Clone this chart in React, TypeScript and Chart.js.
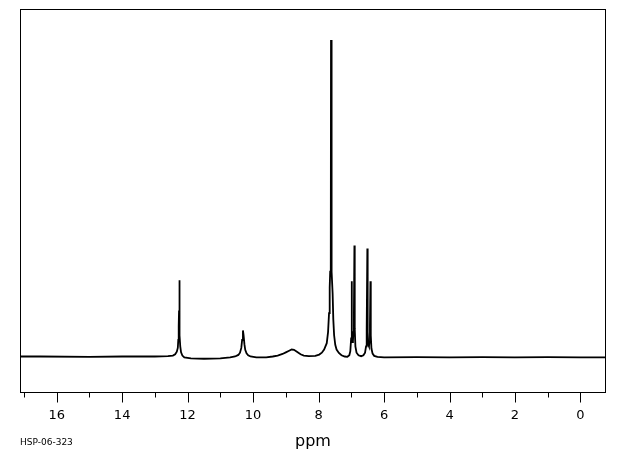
import React, { useEffect, useRef } from 'react';
import { Chart, registerables } from 'chart.js';

Chart.register(...registerables);

// Chemical shift (ppm) sample points, high to low field
const PPM = [
  17.12, 16.5, 15.0, 14.0, 13.0, 12.6, 12.45, 12.38, 12.33, 12.3, 12.285, 12.272, 12.262, 12.255, 12.248, 12.238, 12.225, 12.2, 12.16, 12.1,
  11.9, 11.5, 11.0, 10.7, 10.55, 10.45, 10.4, 10.36, 10.335, 10.31, 10.29, 10.265, 10.24, 10.2, 10.15, 10.08, 9.9, 9.6,
  9.4, 9.25, 9.1, 9.0, 8.9, 8.82, 8.75, 8.65, 8.55, 8.45, 8.3, 8.1, 7.98, 7.9, 7.83,
  7.75, 7.71, 7.68, 7.66, 7.645, 7.627, 7.62, 7.613, 7.59, 7.57, 7.55, 7.525, 7.49, 7.45, 7.38, 7.3, 7.2, 7.12,
  7.06, 7.03, 7.005, 6.99, 6.98, 6.965, 6.95, 6.935, 6.92, 6.905, 6.895, 6.875, 6.84, 6.78, 6.7,
  6.63, 6.58, 6.55, 6.53, 6.51, 6.5, 6.48, 6.46, 6.445, 6.43, 6.415, 6.405, 6.385, 6.35, 6.3, 6.2, 6.0,
  5.0, 4.0, 3.0, 2.0, 1.0, 0.0, -0.78,
];

// Relative intensity at each of the points above
const INTENSITY = [
  0.3, 0.3, 0.2, 0.3, 0.3, 0.4, 0.6, 1.0, 1.8, 3.0, 5.5, 10, 14.8, 24.3, 15, 7, 3.5, 1.6, 0.6, 0.0,
  -0.3, -0.4, -0.3, 0.0, 0.3, 0.8, 1.5, 3.0, 5.5, 8.5, 7.0, 4.2, 2.4, 1.3, 0.7, 0.3, 0.0, 0.0,
  0.3, 0.6, 1.1, 1.6, 2.1, 2.5, 2.4, 1.7, 1.0, 0.6, 0.4, 0.5, 0.9, 1.5, 2.5,
  4.5, 8, 14, 22, 27, 28, 100, 29, 27, 20, 12, 7, 4, 2.5, 1.4, 0.7, 0.3, 0.2,
  0.7, 2.0, 6, 24, 7, 4.8, 5.2, 8, 14, 35.3, 9, 3.5, 1.5, 0.7, 0.4,
  0.7, 1.5, 3.5, 9, 34.3, 8, 4, 3.5, 5, 10, 24, 7, 2.8, 1.2, 0.5, 0.2, 0.0,
  0.1, 0.0, 0.1, 0.0, 0.1, 0.0, 0.0,
];

const X_MIN = -0.78;
const X_MAX = 17.12;
const Y_MIN = -11.2;
const Y_MAX = 109.8;
const MAJOR_TICKS = [0, 2, 4, 6, 8, 10, 12, 14, 16];
const AXIS_TITLE = 'ppm';
const SAMPLE_ID = 'HSP-06-323';

const framePlugin = {
  id: 'nmrFrame',
  afterDraw(chart: any) {
    const { ctx, chartArea } = chart;
    const xs = chart.scales.x;
    ctx.save();
    ctx.strokeStyle = '#000';
    ctx.lineWidth = 1;
    const l = Math.round(chartArea.left) + 0.5;
    const r = Math.round(chartArea.right) - 0.5;
    const t = Math.round(chartArea.top) + 0.5;
    const b = Math.round(chartArea.bottom) - 0.5;
    ctx.strokeRect(l, t, r - l, b - t);
    ctx.beginPath();
    for (const tk of xs.ticks) {
      const px = Math.round(xs.getPixelForValue(tk.value)) + 0.5;
      const len = MAJOR_TICKS.includes(tk.value) ? 10 : 5;
      ctx.moveTo(px, b);
      ctx.lineTo(px, b + len);
    }
    ctx.stroke();
    ctx.fillStyle = '#000';
    ctx.font = '9px "DejaVu Sans"';
    ctx.textBaseline = 'middle';
    ctx.textAlign = 'left';
    ctx.fillText(SAMPLE_ID, chartArea.left, 443);
    ctx.restore();
  },
};

export default function App() {
  const ref = useRef<HTMLCanvasElement>(null);
  useEffect(() => {
    const data = PPM.map((p, i) => ({ x: p, y: INTENSITY[i] }));
    const chart = new Chart(ref.current as HTMLCanvasElement, {
      type: 'line',
      data: {
        datasets: [
          {
            data,
            borderColor: '#000',
            borderWidth: 1.8,
            pointRadius: 0,
            tension: 0,
            fill: false,
          },
        ],
      },
      options: {
        animation: false,
        responsive: false,
        devicePixelRatio: 1,
        layout: { padding: { left: 20, right: 14, top: 9, bottom: 0 } },
        plugins: { legend: { display: false }, tooltip: { enabled: false } },
        scales: {
          x: {
            type: 'linear',
            reverse: true,
            min: X_MIN,
            max: X_MAX,
            afterFit: (s: any) => {
              s.height = 62;
            },
            grid: { display: false, drawTicks: false },
            border: { display: false },
            ticks: {
              stepSize: 1,
              autoSkip: false,
              maxRotation: 0,
              includeBounds: false,
              padding: 15,
              color: '#000',
              font: { family: 'DejaVu Sans', size: 13 },
              callback: (v: any) => (MAJOR_TICKS.includes(v) ? String(v) : ''),
            },
            title: {
              display: true,
              text: AXIS_TITLE,
              color: '#000',
              font: { family: 'DejaVu Sans', size: 16 },
              padding: { top: 0, bottom: 4 },
            },
          },
          y: { display: false, min: Y_MIN, max: Y_MAX },
        },
      } as any,
      plugins: [framePlugin],
    });
    return () => chart.destroy();
  }, []);
  return (
    <div style={{ position: 'absolute', left: 0, top: 0, width: 620, height: 455, background: '#fff' }}>
      <canvas ref={ref} width={620} height={455} />
    </div>
  );
}
